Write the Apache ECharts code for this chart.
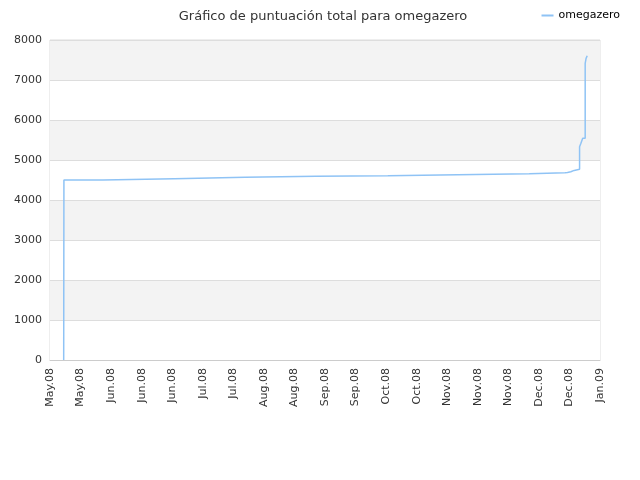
<!DOCTYPE html>
<html><head><meta charset="utf-8">
<script src="https://cdn.jsdelivr.net/npm/echarts@6/dist/echarts.min.js"></script>
<style>html,body{margin:0;padding:0;background:#fff}#c{width:640px;height:480px}</style>
</head><body><div id="c"></div>
<script>
const tickLabels = ['May.08','May.08','Jun.08','Jun.08','Jun.08','Jul.08','Jul.08','Aug.08','Aug.08','Sep.08','Sep.08','Oct.08','Oct.08','Nov.08','Nov.08','Nov.08','Dec.08','Dec.08','Jan.09'];
const days = [6.1, 6.2, 23.5, 55.4, 86.9, 118.6, 150.5, 181.6, 213.5, 229.4, 230.5, 232, 233.5, 235.9, 235.9, 236.5, 237.3, 238.4, 238.4, 238.8, 239.3];
const scores = [0, 4500, 4533, 4567, 4592, 4608, 4633, 4658, 4683, 4690, 4708, 4740, 4767, 4800, 5333, 5417, 5542, 5600, 7417, 7540, 7608];
const totalDays = 245;
const step = totalDays / 18;
const chart = echarts.init(document.getElementById('c'));
chart.setOption({
  animation: false,
  title: { text: 'Gráfico de puntuación total para omegazero', left: 318, top: 5, textAlign: 'center',
    textStyle: { fontFamily: 'DejaVu Sans', fontSize: 13, fontWeight: 'normal', color: '#333' } },
  legend: { right: 15, top: 5, itemWidth: 12, itemHeight: 2, icon: 'rect',
    textStyle: { fontFamily: 'DejaVu Sans', fontSize: 11, color: '#000' }, data: ['omegazero'] },
  grid: { left: 50, right: 40, top: 40, bottom: 120, show: true, borderColor: '#ddd', borderWidth: 1, backgroundColor: 'transparent' },
  xAxis: { type: 'value', min: 0, max: totalDays, interval: step,
    axisLine: { lineStyle: { color: '#ccc' } }, axisTick: { show: false },
    splitLine: { show: false },
    axisLabel: { rotate: 90, fontFamily: 'DejaVu Sans', fontSize: 11, color: '#333', showMaxLabel: true, showMinLabel: true,
      formatter: v => tickLabels[Math.round(v / step)] || '' } },
  yAxis: { type: 'value', min: 0, max: 8000, interval: 1000,
    axisLine: { show: false }, axisTick: { show: false },
    splitLine: { lineStyle: { color: '#ddd' } },
    splitArea: { show: true, areaStyle: { color: ['#fff', '#f3f3f3'] } },
    axisLabel: { fontFamily: 'DejaVu Sans', fontSize: 11, color: '#333', formatter: v => String(v) } },
  series: [{ name: 'omegazero', type: 'line', step: 'end', showSymbol: false,
    data: days.map((d, i) => [d, scores[i]]),
    lineStyle: { color: '#8fc3f5', width: 1.5 }, itemStyle: { color: '#8fc3f5' } }]
});
</script></body></html>
